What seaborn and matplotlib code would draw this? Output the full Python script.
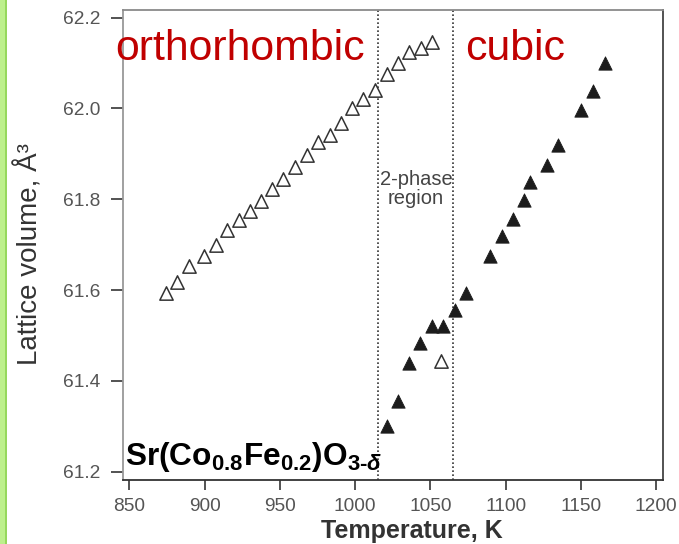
import numpy as np
import pandas as pd
import matplotlib
matplotlib.use("Agg")
import matplotlib.pyplot as plt
from matplotlib.patches import Rectangle
from matplotlib.lines import Line2D
import seaborn as sns

# Orthorhombic phase (open triangles)
ortho_T = [874.2, 881.5, 889.8, 899.8, 907.4, 915.1, 923.0, 930.1, 937.5, 945.0,
           952.3, 960.0, 967.8, 975.5, 983.3, 990.6, 998.1, 1005.4, 1013.1, 1020.9,
           1028.2, 1035.9, 1043.5, 1051.2, 1057.4]
ortho_V = [61.593, 61.617, 61.654, 61.675, 61.699, 61.732, 61.754, 61.775, 61.796, 61.823,
           61.845, 61.870, 61.897, 61.925, 61.941, 61.967, 62.000, 62.020, 62.040, 62.076,
           62.099, 62.125, 62.132, 62.147, 61.443]

# Cubic phase (filled triangles)
cubic_T = [1020.9, 1028.6, 1035.7, 1043.0, 1050.8, 1058.5, 1066.7, 1074.0, 1089.5,
           1097.3, 1104.6, 1112.1, 1116.1, 1127.2, 1134.9, 1150.4, 1158.1, 1166.0]
cubic_V = [61.300, 61.355, 61.440, 61.483, 61.520, 61.521, 61.556, 61.594, 61.675,
           61.718, 61.756, 61.798, 61.839, 61.875, 61.919, 61.996, 62.039, 62.099]

# Boundaries of the two-phase region, K
phase_bounds = [1015, 1065]

x_ticks = [850, 900, 950, 1000, 1050, 1100, 1150, 1200]
y_ticks = [61.2, 61.4, 61.6, 61.8, 62.0, 62.2]

df = pd.DataFrame({
    "T": ortho_T + cubic_T,
    "V": ortho_V + cubic_V,
    "phase": ["orthorhombic"] * len(ortho_T) + ["cubic"] * len(cubic_T),
})

sns.set_style("white")
plt.rcParams["font.family"] = ["Liberation Sans", "DejaVu Sans"]
plt.rcParams["mathtext.fontset"] = "custom"
plt.rcParams["mathtext.rm"] = "Liberation Sans"
plt.rcParams["mathtext.bf"] = "Liberation Sans:bold"
plt.rcParams["mathtext.it"] = "Liberation Sans:italic:bold"
plt.rcParams["mathtext.default"] = "regular"

fig = plt.figure(figsize=(6.79, 5.44), dpi=100)
ax = fig.add_axes([0.1807, 0.1176, 0.7962, 0.8640])

sns.scatterplot(data=df[df.phase == "orthorhombic"], x="T", y="V", ax=ax,
                marker="^", s=92, color="white", edgecolor="#333333",
                linewidth=1.1, zorder=3, legend=False)
sns.scatterplot(data=df[df.phase == "cubic"], x="T", y="V", ax=ax,
                marker="^", s=92, color="#1c1c1c", edgecolor="#1c1c1c",
                linewidth=0.6, zorder=3, legend=False)

for xb in phase_bounds:
    ax.axvline(xb, color="#333333", lw=1.2, ls=(0, (1, 1.4)), zorder=2)

ax.set_xlim(845.6, 1204.8)
ax.set_ylim(61.182, 62.2165)
ax.set_xticks(x_ticks)
ax.set_yticks(y_ticks)
ax.set_yticklabels([f"{v:.1f}" for v in y_ticks])

ax.tick_params(axis="both", which="major", direction="out", color="#444444",
               width=1.3, labelsize=13.8, labelcolor="#555555",
               bottom=True, left=True, top=False, right=False)
ax.tick_params(axis="x", length=7.2, pad=5.5)
ax.tick_params(axis="y", length=9, pad=7)

for side, col in {"left": "#999999", "top": "#8a8a8a",
                  "right": "#444444", "bottom": "#333333"}.items():
    ax.spines[side].set_color(col)
    ax.spines[side].set_linewidth(1.3)
    ax.spines[side].set_visible(True)

ax.set_xlabel("Temperature, K", fontsize=18, fontweight="bold", color="#333333")
ax.xaxis.set_label_coords(0.535, -0.083)
ax.set_ylabel("Lattice volume, Å³", fontsize=20, color="#333333")
ax.yaxis.set_label_coords(-0.146, 0.481)

ax.text(-0.014, 0.894, "orthorhombic", transform=ax.transAxes,
        fontsize=30.8, color="#c00000", ha="left", va="baseline")
ax.text(0.633, 0.894, "cubic", transform=ax.transAxes,
        fontsize=30.8, color="#c00000", ha="left", va="baseline")

ax.text(1040.5, 61.822, "2-phase\nregion", ha="center", va="center",
        fontsize=14.5, color="#444444", linespacing=1.0)

ax.text(0.004, 0.033, r"Sr(Co$_{0.8}$Fe$_{0.2}$)O$_{3‐\mathit{\delta}}$",
        transform=ax.transAxes, fontsize=22.8, fontweight="bold",
        color="black", ha="left", va="baseline", zorder=4)

# Green accent bar along the left edge of the figure
fig.patches.append(Rectangle((0, 0), 6.5 / 679, 1, transform=fig.transFigure,
                             facecolor="#bdf08c", edgecolor="none", zorder=0))
fig.lines.append(Line2D([5.5 / 679, 5.5 / 679], [0, 1], transform=fig.transFigure,
                        color="#8fd454", lw=1.2))

fig.savefig("out.png", dpi=100)
